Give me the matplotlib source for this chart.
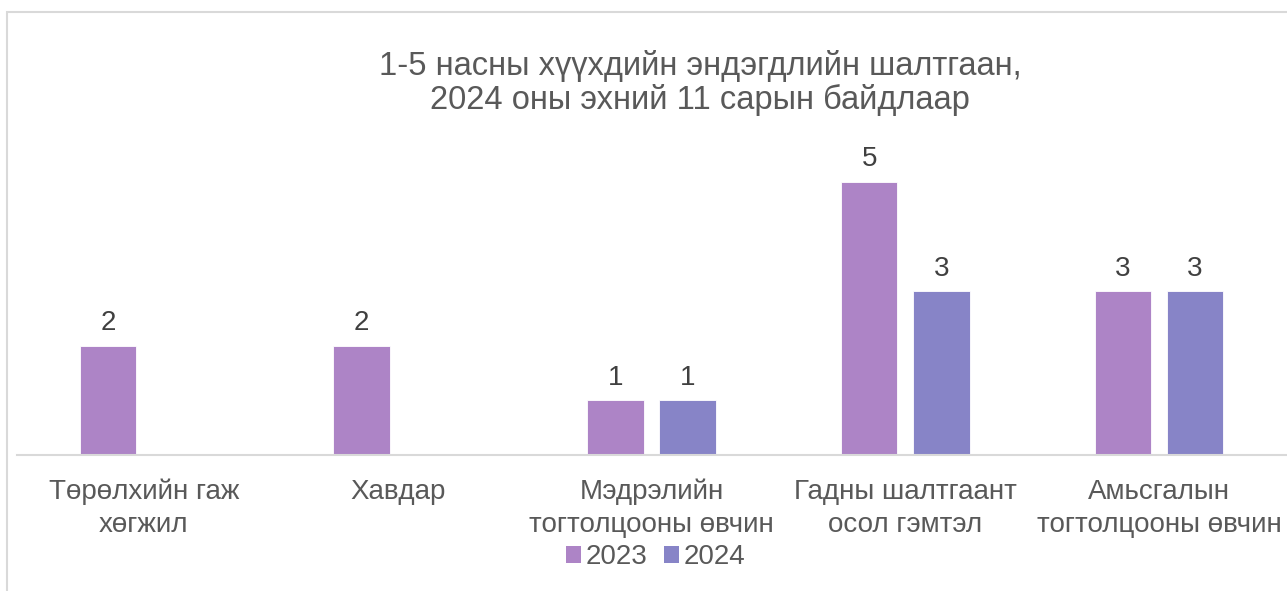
import numpy as np
import matplotlib
matplotlib.use("Agg")
import matplotlib.pyplot as plt
from matplotlib.patches import Rectangle, Patch

plt.rcParams['font.family'] = ['Liberation Sans', 'DejaVu Sans']

categories = ["Төрөлхийн гаж\nхөгжил", "Хавдар", "Мэдрэлийн\nтогтолцооны өвчин",
              "Гадны шалтгаант\nосол гэмтэл", "Амьсгалын\nтогтолцооны өвчин"]
series_names = ["2023", "2024"]
values_2023 = [2, 2, 1, 5, 3]
values_2024 = [np.nan, np.nan, 1, 3, 3]
title = "1-5 насны хүүхдийн эндэгдлийн шалтгаан,\n2024 оны эхний 11 сарын байдлаар"
colors = ["#AD84C6", "#8784C7"]

W, H = 1287, 591
fig = plt.figure(figsize=(W / 100, H / 100), dpi=100)
fig.patch.set_facecolor("white")

ax_left, ax_right = 17 / W, 1286 / W
ax_bottom = (H - 455) / H
ax_top = (H - 127) / H
ax = fig.add_axes([ax_left, ax_bottom, ax_right - ax_left, ax_top - ax_bottom])

x = np.arange(len(categories))
bw = 0.222
off = 0.142
for i, (vals, c) in enumerate(zip([values_2023, values_2024], colors)):
    pos = x + (-off if i == 0 else off)
    bars = ax.bar(pos, vals, width=bw, color=c, edgecolor="white", linewidth=0.6, label=series_names[i])
    for p, v in zip(pos, vals):
        if not np.isnan(v):
            ax.text(p, v + 0.17, f"{int(v)}", ha="center", va="bottom", fontsize=20, color="#404040")

ax.set_xlim(-0.5, len(categories) - 0.5)
ax.set_ylim(0, 6)
ax.set_yticks([])
for s in ["top", "right", "left"]:
    ax.spines[s].set_visible(False)
ax.spines["bottom"].set_color("#d9d9d9")
ax.spines["bottom"].set_linewidth(1.5)
ax.set_xticks(x)
ax.set_xticklabels(categories, fontsize=20, color="#595959", linespacing=1.36)
ax.tick_params(axis="x", length=0, pad=17)

fig.text((700) / W, 1 - 83 / H, title, ha="center", va="center", fontsize=23.5, color="#595959", linespacing=1.1)

handles = [Patch(facecolor=c, edgecolor="none") for c in colors]
fig.legend(handles, series_names, loc="center", bbox_to_anchor=(0.5 + 12 / W, 1 - 557 / H), ncol=2,
           frameon=False, fontsize=20, handlelength=0.55, handleheight=0.55, handletextpad=0.15,
           columnspacing=0.62, labelcolor="#595959")

fig.add_artist(Rectangle((6.5 / W, -0.1), 1.2, 1 - 11.5 / H + 0.1, transform=fig.transFigure,
                         fill=False, edgecolor="#d9d9d9", linewidth=1.5, clip_on=False))

fig.savefig("out.png", dpi=100)
